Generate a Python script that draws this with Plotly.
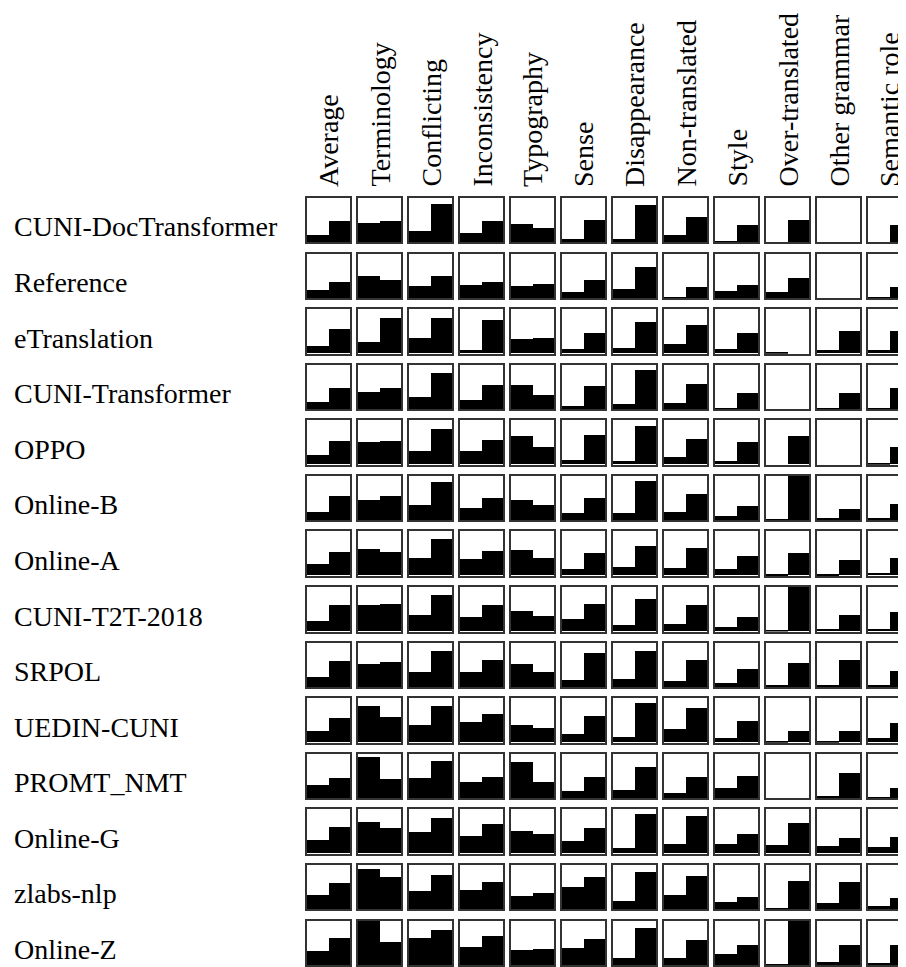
import plotly.graph_objects as go
from plotly.subplots import make_subplots

systems = ["CUNI-DocTransformer", "Reference", "eTranslation", "CUNI-Transformer",
           "OPPO", "Online-B", "Online-A", "CUNI-T2T-2018", "SRPOL", "UEDIN-CUNI",
           "PROMT_NMT", "Online-G", "zlabs-nlp", "Online-Z"]

categories = ["Average", "Terminology", "Conflicting", "Inconsistency", "Typography",
              "Sense", "Disappearance", "Non-translated", "Style", "Over-translated",
              "Other grammar", "Semantic role"]

# left bar value per system (rows) and category (columns)
left_share = [
    [0.16, 0.43, 0.25, 0.21, 0.41, 0.08, 0.08, 0.16, 0.02, 0.01, 0.00, 0.01],
    [0.20, 0.51, 0.29, 0.31, 0.29, 0.15, 0.22, 0.04, 0.17, 0.15, 0.00, 0.03],
    [0.17, 0.26, 0.35, 0.08, 0.32, 0.10, 0.12, 0.21, 0.10, 0.02, 0.08, 0.08],
    [0.17, 0.40, 0.29, 0.22, 0.56, 0.08, 0.13, 0.15, 0.04, 0.00, 0.02, 0.04],
    [0.21, 0.50, 0.30, 0.30, 0.64, 0.10, 0.08, 0.17, 0.08, 0.00, 0.00, 0.02],
    [0.20, 0.45, 0.34, 0.29, 0.47, 0.16, 0.16, 0.18, 0.11, 0.03, 0.05, 0.05],
    [0.26, 0.60, 0.40, 0.37, 0.57, 0.15, 0.19, 0.17, 0.15, 0.03, 0.04, 0.06],
    [0.23, 0.59, 0.36, 0.32, 0.45, 0.29, 0.14, 0.16, 0.09, 0.02, 0.05, 0.05],
    [0.24, 0.53, 0.35, 0.35, 0.53, 0.17, 0.20, 0.15, 0.11, 0.05, 0.05, 0.05],
    [0.26, 0.82, 0.39, 0.46, 0.39, 0.19, 0.12, 0.30, 0.10, 0.03, 0.03, 0.10],
    [0.31, 0.94, 0.47, 0.38, 0.83, 0.17, 0.20, 0.13, 0.24, 0.00, 0.06, 0.04],
    [0.30, 0.71, 0.48, 0.39, 0.50, 0.28, 0.12, 0.21, 0.21, 0.19, 0.17, 0.14],
    [0.32, 0.91, 0.41, 0.43, 0.30, 0.50, 0.20, 0.32, 0.16, 0.02, 0.14, 0.07],
    [0.33, 1.12, 0.62, 0.42, 0.35, 0.39, 0.17, 0.17, 0.26, 0.03, 0.08, 0.05],
]

# right bar value per system (rows) and category (columns)
right_share = [
    [0.48, 0.48, 0.86, 0.48, 0.32, 0.51, 0.84, 0.57, 0.39, 0.50, 0.00, 0.39],
    [0.38, 0.42, 0.51, 0.38, 0.33, 0.42, 0.71, 0.26, 0.31, 0.47, 0.00, 0.26],
    [0.55, 0.80, 0.80, 0.75, 0.35, 0.46, 0.71, 0.64, 0.46, 0.00, 0.50, 0.50],
    [0.49, 0.49, 0.83, 0.56, 0.33, 0.53, 0.89, 0.58, 0.38, 0.00, 0.38, 0.49],
    [0.53, 0.53, 0.80, 0.55, 0.39, 0.66, 0.86, 0.57, 0.50, 0.64, 0.00, 0.39],
    [0.56, 0.54, 0.86, 0.50, 0.34, 0.50, 0.88, 0.59, 0.32, 1.00, 0.25, 0.38],
    [0.53, 0.53, 0.82, 0.55, 0.40, 0.51, 0.66, 0.62, 0.44, 0.51, 0.35, 0.40],
    [0.59, 0.61, 0.81, 0.59, 0.34, 0.61, 0.72, 0.59, 0.32, 1.00, 0.38, 0.43],
    [0.60, 0.58, 0.83, 0.62, 0.35, 0.78, 0.83, 0.62, 0.42, 0.56, 0.62, 0.38],
    [0.55, 0.57, 0.82, 0.64, 0.32, 0.59, 0.89, 0.77, 0.48, 0.26, 0.26, 0.44],
    [0.47, 0.44, 0.85, 0.49, 0.38, 0.49, 0.71, 0.49, 0.51, 0.00, 0.58, 0.24],
    [0.59, 0.57, 0.80, 0.66, 0.44, 0.57, 0.89, 0.84, 0.44, 0.68, 0.35, 0.37],
    [0.59, 0.73, 0.77, 0.61, 0.36, 0.73, 0.84, 0.75, 0.27, 0.64, 0.61, 0.25],
    [0.62, 0.53, 0.80, 0.67, 0.37, 0.60, 0.85, 0.58, 0.46, 1.00, 0.46, 0.46],
]

# the page body adds an 8px margin, so the figure is sized to the remaining area
W, H = 898, 959
ML, MR, MT, MB = 299, 0, 190, 2
PW, PH = W - ML - MR, H - MT - MB
BOX_W, LAST_W, GAP_X = 43, 38, 8
GAP_Y = 11.1

nrows, ncols = len(systems), len(categories)
fig = make_subplots(
    rows=nrows, cols=ncols,
    column_widths=[BOX_W] * (ncols - 1) + [LAST_W],
    horizontal_spacing=GAP_X / PW,
    vertical_spacing=GAP_Y / PH,
)

FONT = "Liberation Serif, Times New Roman, serif"
FS = 28
LINE = "#333333"

for r in range(nrows):
    for c in range(ncols):
        fig.add_trace(
            go.Bar(
                x=[0, 1],
                y=[left_share[r][c], right_share[r][c]],
                width=1,
                marker=dict(color="black", line=dict(width=0)),
                cliponaxis=False,
                hoverinfo="skip",
                showlegend=False,
            ),
            row=r + 1, col=c + 1,
        )

fig.update_xaxes(range=[-0.5, 1.5], showticklabels=False, ticks="", showgrid=False,
                 zeroline=False, showline=True, mirror=True, linecolor=LINE,
                 linewidth=1.5, fixedrange=True)
fig.update_yaxes(range=[0, 1], showticklabels=False, ticks="", showgrid=False,
                 zeroline=False, showline=True, mirror=True, linecolor=LINE,
                 linewidth=1.5, fixedrange=True)
# last column is cut by the page edge
last_range = [-0.5, -0.5 + 2 * LAST_W / BOX_W]
fig.update_xaxes(range=last_range, col=ncols)
fig.update_yaxes(mirror=False, col=ncols)

def ax_suffix(r, c):
    idx = r * ncols + c + 1
    return "" if idx == 1 else str(idx)

annotations = []
for c, name in enumerate(categories):
    s = ax_suffix(0, c)
    xc = 0.5 if c < ncols - 1 else (BOX_W / 2) / LAST_W
    annotations.append(dict(
        text=name, textangle=-90, showarrow=False,
        xref=f"x{s} domain", yref=f"y{s} domain", x=xc, y=1,
        xanchor="center", yanchor="bottom", yshift=9,
        font=dict(family=FONT, size=FS, color="black"),
    ))
for r, name in enumerate(systems):
    s = ax_suffix(r, 0)
    annotations.append(dict(
        text=name, showarrow=False,
        xref="paper", yref=f"y{s} domain", x=(4 - ML) / PW, y=0,
        xanchor="left", yanchor="bottom", yshift=-2,
        font=dict(family=FONT, size=FS, color="black"),
    ))

fig.update_layout(
    width=W, height=H,
    margin=dict(l=ML, r=MR, t=MT, b=MB),
    paper_bgcolor="white", plot_bgcolor="white",
    showlegend=False, bargap=0,
    annotations=annotations,
)

fig.write_html("out.html")
